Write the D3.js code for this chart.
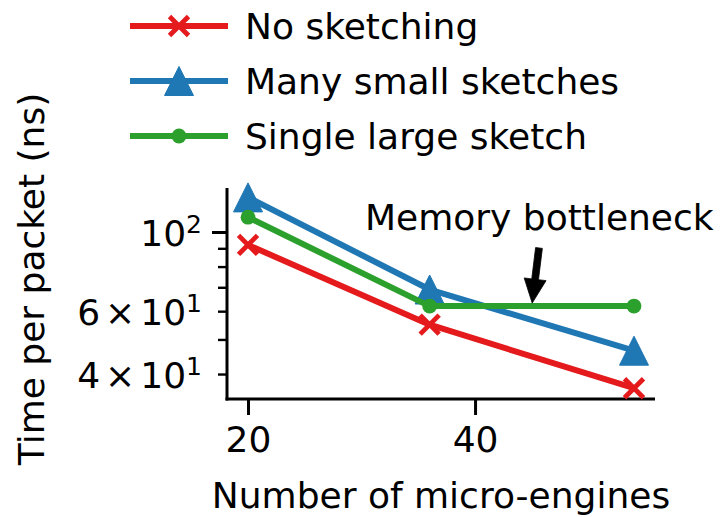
<!DOCTYPE html>
<html>
<head>
<meta charset="utf-8">
<script src="https://cdn.jsdelivr.net/npm/d3@7"></script>
<style>
  html, body { margin: 0; padding: 0; background: #fff; }
  svg { display: block; font-family: "DejaVu Sans", sans-serif; }
</style>
</head>
<body>
<svg id="chart" width="726" height="517"></svg>
<script>
// Number of micro-engines on the x axis
const engines = [20, 36, 54];

// Time per packet (ns) for each configuration
const noSketching = [92, 55, 36.5];
const manySmallSketches = [125, 69, 46.5];
const singleLargeSketch = [110, 62, 62];

const seriesNames = ["No sketching", "Many small sketches", "Single large sketch"];
const seriesColors = ["#e41a1c", "#1f77b4", "#2ca02c"];
const seriesMarkers = ["x", "triangle", "circle"];

// Axis ticks
const xTicks = [20, 40];
const yMajorTicks = [100];
const yMinorTicks = [40, 50, 60, 70, 80, 90];
const yLabelTicks = [40, 60, 100];
const yLabelMantissa = ["4", "6", ""];
const yLabelExponent = ["1", "1", "2"];

// Annotation (data coordinates)
const annotationText = "Memory bottleneck";
const annotationTextAt = [30.3, 101.3];
const annotationTail = [45.63, 90.2];
const annotationTip = [45.0, 62];

const series = [noSketching, manySmallSketches, singleLargeSketch].map((vals, i) => ({
  name: seriesNames[i],
  color: seriesColors[i],
  marker: seriesMarkers[i],
  points: engines.map((e, j) => ({ x: e, y: vals[j] }))
}));

const svg = d3.select("#chart");
const FONT = 36;

const plotLeft = 227, plotRight = 655, plotTop = 188, plotBottom = 399;
const x = d3.scaleLinear().domain([18.15, 55.85]).range([plotLeft, plotRight]);
const y = d3.scaleLog().domain([34.05, 132.8]).range([plotBottom, plotTop]);

// Marker shapes
function markerPath(type) {
  if (type === "x") return "M-9.5,-9.5L9.5,9.5M-9.5,9.5L9.5,-9.5";
  if (type === "triangle") return "M0,-14.5L14.5,14.5L-14.5,14.5Z";
  return null;
}
function drawMarker(g, type, color, cx, cy) {
  if (type === "circle") {
    g.append("circle").attr("cx", cx).attr("cy", cy).attr("r", 7.4)
      .attr("fill", color);
  } else if (type === "x") {
    g.append("path").attr("d", markerPath(type))
      .attr("transform", `translate(${cx},${cy})`)
      .attr("fill", "none").attr("stroke", color).attr("stroke-width", 4.8);
  } else {
    g.append("path").attr("d", markerPath(type))
      .attr("transform", `translate(${cx},${cy})`)
      .attr("fill", color).attr("stroke", color).attr("stroke-width", 1)
      .attr("stroke-linejoin", "miter");
  }
}

// Axes
const xAxis = svg.append("g")
  .attr("transform", `translate(0,${plotBottom})`)
  .call(d3.axisBottom(x).tickValues(xTicks).tickSize(16).tickSizeOuter(0).tickPadding(11));
xAxis.select(".domain").attr("stroke", "#000").attr("stroke-width", 3)
  .attr("d", `M${plotLeft - 1.5},0H${plotRight}`);
xAxis.selectAll(".tick line").attr("stroke", "#000").attr("stroke-width", 3);
xAxis.selectAll(".tick text").attr("font-size", FONT).attr("fill", "#000")
  .attr("font-family", "DejaVu Sans, sans-serif");

const yAxisMinor = svg.append("g")
  .attr("transform", `translate(${plotLeft},0)`)
  .call(d3.axisLeft(y).tickValues(yMinorTicks).tickSize(9).tickSizeOuter(0).tickFormat(""));
yAxisMinor.select(".domain").attr("stroke", "#000").attr("stroke-width", 3)
  .attr("d", `M0,${plotTop}V${plotBottom + 1.5}`);
yAxisMinor.selectAll(".tick line").attr("stroke", "#000").attr("stroke-width", 2.4);

const yAxisMajor = svg.append("g")
  .attr("transform", `translate(${plotLeft},0)`)
  .call(d3.axisLeft(y).tickValues(yMajorTicks).tickSize(15).tickSizeOuter(0).tickFormat(""));
yAxisMajor.select(".domain").remove();
yAxisMajor.selectAll(".tick line").attr("stroke", "#000").attr("stroke-width", 3);

// Log tick labels with superscript exponents
yLabelTicks.forEach((v, i) => {
  const t = svg.append("text")
    .attr("x", plotLeft - 25)
    .attr("y", y(v) + 14)
    .attr("text-anchor", "end")
    .attr("font-size", FONT)
    .attr("fill", "#000");
  if (yLabelMantissa[i]) {
    t.append("tspan").text(yLabelMantissa[i]);
    t.append("tspan").attr("dx", 5).text("\u00d7");
    t.append("tspan").attr("dx", 5).text("10");
  } else {
    t.append("tspan").text("10");
  }
  t.append("tspan").attr("font-size", 25).attr("dy", -13).text(yLabelExponent[i]);
});

// Axis titles
svg.append("text")
  .attr("x", (plotLeft + plotRight) / 2).attr("y", 508)
  .attr("text-anchor", "middle").attr("font-size", FONT).attr("fill", "#000")
  .text("Number of micro-engines");

svg.append("text")
  .attr("transform", "translate(44,279) rotate(-90)")
  .attr("text-anchor", "middle").attr("font-size", FONT).attr("fill", "#000")
  .text("Time per packet (ns)");

// Series lines and markers
const line = d3.line().x(d => x(d.x)).y(d => y(d.y));
series.forEach(s => {
  const g = svg.append("g");
  g.append("path").datum(s.points).attr("d", line)
    .attr("fill", "none").attr("stroke", s.color).attr("stroke-width", 6)
    .attr("stroke-linejoin", "round").attr("stroke-linecap", "butt");
  s.points.forEach(p => drawMarker(g, s.marker, s.color, x(p.x), y(p.y)));
});

// Annotation text and arrow
svg.append("text")
  .attr("x", x(annotationTextAt[0])).attr("y", y(annotationTextAt[1]))
  .attr("font-size", FONT).attr("fill", "#000")
  .text(annotationText);

(function drawArrow() {
  const x0 = x(annotationTail[0]), y0 = y(annotationTail[1]);
  let x1 = x(annotationTip[0]), y1 = y(annotationTip[1]);
  const dx = x1 - x0, dy = y1 - y0, len = Math.hypot(dx, dy);
  const ux = dx / len, uy = dy / len, nx = -uy, ny = ux;
  x1 -= ux * 3; y1 -= uy * 3;
  const headLen = 24, headW = 11, shaftW = 3.4;
  const bx = x1 - ux * headLen, by = y1 - uy * headLen;
  const pts = [
    [x0 + nx * shaftW, y0 + ny * shaftW],
    [bx + nx * shaftW, by + ny * shaftW],
    [bx + nx * headW, by + ny * headW],
    [x1, y1],
    [bx - nx * headW, by - ny * headW],
    [bx - nx * shaftW, by - ny * shaftW],
    [x0 - nx * shaftW, y0 - ny * shaftW]
  ];
  svg.append("polygon").attr("points", pts.map(p => p.join(",")).join(" "))
    .attr("fill", "#000").attr("stroke", "#000").attr("stroke-width", 0.8)
    .attr("stroke-linejoin", "miter");
})();

// Legend
const legendRows = [26, 81, 136];
series.forEach((s, i) => {
  const g = svg.append("g");
  const ry = legendRows[i];
  g.append("line").attr("x1", 130).attr("x2", 228).attr("y1", ry).attr("y2", ry)
    .attr("stroke", s.color).attr("stroke-width", 6);
  drawMarker(g, s.marker, s.color, 179, ry);
  g.append("text").attr("x", 245).attr("y", ry + 13)
    .attr("font-size", FONT).attr("fill", "#000").text(s.name);
});
</script>
</body>
</html>
